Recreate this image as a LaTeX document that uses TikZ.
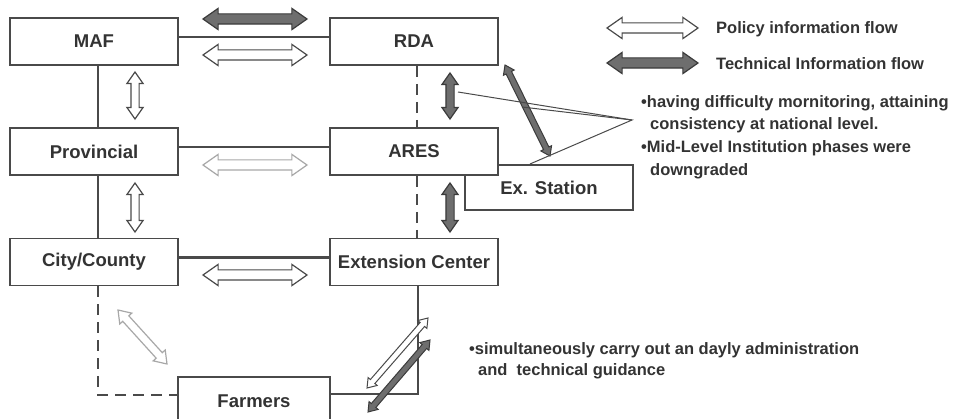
\documentclass[tikz,border=0pt]{standalone}
\usepackage{fontspec}
\setmainfont{Liberation Sans}
\usetikzlibrary{shapes.arrows,calc}
\definecolor{edge}{HTML}{4A4A4A}
\definecolor{txt}{HTML}{333333}
\definecolor{darkfill}{HTML}{6E6E6E}
\definecolor{lightedge}{HTML}{A8A8A8}
\newcommand\flowarrow[4][]{%
  \path let \p1=($#4-#3$), \n1={veclen(\x1,\y1)}, \n2={atan2(\y1,\x1)} in
    node[#1, minimum height=\n1, rotate=\n2] (#2) at ($#3!0.5!#4$) {};}
\tikzset{
  box/.style={draw=edge, fill=white, line width=1.8pt, inner sep=0pt,
    minimum width=168pt, minimum height=47pt, text=txt,
    font=\fontsize{18.5}{20}\selectfont\bfseries},
  conn/.style={draw=edge, line width=2.2pt},
  dconn/.style={draw=edge, line width=2.6pt, dash pattern=on 11pt off 7pt},
  callout/.style={draw=edge, line width=1pt},
  arrbase/.style={double arrow, inner xsep=0pt, inner ysep=4.5pt, line width=1.2pt,
    double arrow tip angle=70, minimum width=20pt, double arrow head extend=5.5pt},
  warr/.style={arrbase, draw=edge, fill=white},
  darr/.style={arrbase, draw=edge!80!black, fill=darkfill},
  larr/.style={arrbase, draw=lightedge, fill=white},
  slim/.style={inner ysep=3.5pt, minimum width=15pt, double arrow head extend=4pt},
  thin arr/.style={inner ysep=2.5pt, minimum width=11pt, double arrow head extend=3pt, line width=1pt},
  note/.style={anchor=west, inner sep=0pt, text=txt,
    font=\fontsize{16.5}{18}\selectfont\bfseries},
}
\begin{document}
\begin{tikzpicture}[x=1pt,y=-1pt]
\useasboundingbox (0,0) rectangle (964,419);
\clip (0,0) rectangle (964,419);
\fill[white] (0,0) rectangle (964,419);

% boxes
\node[box] (maf)  at (94,41.5)   {MAF};
\node[box] (rda)  at (414,41.5)  {RDA};
\node[box] (prov) at (94,151.5)  {Provincial};
\node[box, minimum height=45pt] (exst) at (549,187.5) {Ex. Station};
\node[box] (ares) at (414,151.5) {ARES};
\node[box] (city) at (94,262)    {City/County};
\node[box] (ext)  at (414,262)   {Extension Center};
\node[box, minimum width=152pt, minimum height=48pt] (farm) at (254,401) {Farmers};

% connectors
\draw[conn] ([yshift=4.5pt]maf.east) -- ([yshift=4.5pt]rda.west);
\draw[conn] ([yshift=4.5pt]prov.east) -- ([yshift=4.5pt]ares.west);
\draw[conn] ([yshift=4.5pt]city.east) -- ([yshift=4.5pt]ext.west);
\draw[conn] ([xshift=4pt]maf.south) -- ([xshift=4pt]prov.north);
\draw[conn] ([xshift=4pt]prov.south) -- ([xshift=4pt]city.north);
\draw[dconn] ([xshift=3pt]rda.south) -- ([xshift=3pt]ares.north);
\draw[dconn] ([xshift=3pt]ares.south) -- ([xshift=3pt]ext.north);
\draw[conn] ([xshift=4pt]ext.south) |- ([yshift=7pt]farm.east);
\draw[dconn] ([xshift=4pt]city.south) |- ([yshift=6pt]farm.west);

% flow arrows
\flowarrow[darr]{a1}{(203,19)}{(307,19)}
\flowarrow[warr]{a2}{(203,55)}{(307,55)}
\flowarrow[larr]{a3}{(203,165)}{(307,165)}
\flowarrow[warr]{a4}{(203,275)}{(307,275)}
\flowarrow[warr,slim]{a5}{(135,72)}{(135,119)}
\flowarrow[warr,slim]{a6}{(135,183)}{(135,232)}
\flowarrow[darr,slim]{a7}{(450,73)}{(450,119)}
\flowarrow[darr,slim]{a8}{(450,183)}{(450,232)}
\flowarrow[darr,thin arr]{a9}{(505,65)}{(550,156)}
\flowarrow[larr,slim]{a10}{(118,310)}{(167,364)}
\flowarrow[warr,thin arr]{a11}{(428,318)}{(367,388)}
\flowarrow[darr,thin arr]{a12}{(430,340)}{(368,412)}

% legend
\flowarrow[warr]{l1}{(607,28)}{(698,28)}
\flowarrow[darr]{l2}{(607,63)}{(698,63)}
\node[note] (lt1) at (716,29) {Policy information flow};
\node[note] (lt2) at (716,64) {Technical Information flow};

% callout
\coordinate (apex) at (632,120);
\coordinate (c1) at (458,92);
\coordinate (c2) at (522,107);
\coordinate (c3) at (530,164);
\draw[callout] (c1) -- (apex) -- (c3);
\draw[callout] (c2) -- (apex);

% notes
\node[note] (n1) at (641,103) {•having difficulty mornitoring, attaining};
\node[note] (n2) at (650,125) {consistency at national level.};
\node[note] (n3) at (641,148) {•Mid-Level Institution phases were};
\node[note] (n4) at (650,171) {downgraded};
\node[note] (n5) at (469,350) {•simultaneously carry out an dayly administration};
\node[note] (n6) at (478,371) {and\ \ technical guidance};
\end{tikzpicture}
\end{document}
